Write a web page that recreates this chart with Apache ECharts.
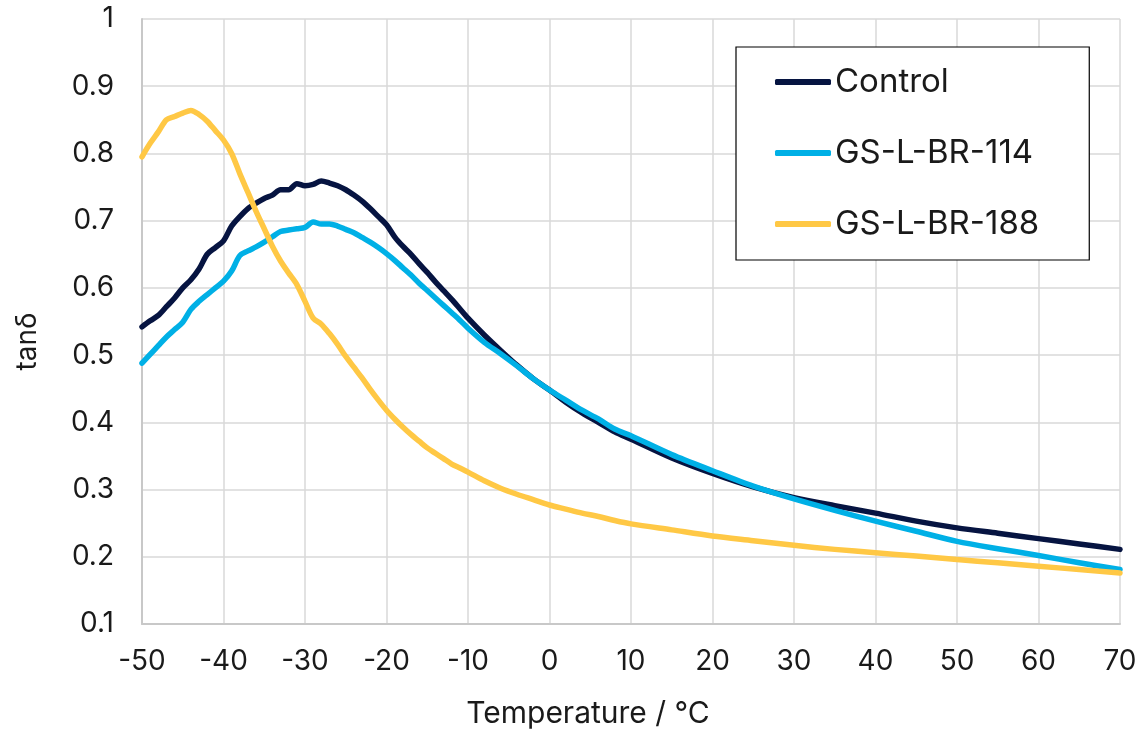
<!DOCTYPE html>
<html>
<head>
<meta charset="utf-8">
<script src="https://cdn.jsdelivr.net/npm/echarts@6/dist/echarts.min.js"></script>
<style>
  html, body { margin: 0; padding: 0; background: #ffffff; }
  #chart { width: 1143px; height: 739px; }
</style>
</head>
<body>
<div id="chart"></div>
<script>
// Temperature (°C)
const temperature = [-50,-49,-48,-47,-46,-45,-44,-43,-42,-41,-40,-39,-38,-37,-36,-35,-34,-33,-32,-31,-30,-29,-28,-27,-26,-25,-24,-23,-22,-21,-20,-19,-18,-17,-16,-15,-14,-13,-12,-11,-10,-8,-6,-4,-2,0,2,4,6,8,10,15,20,25,30,35,40,45,50,55,60,65,70];

const control = [0.542,0.551,0.559,0.572,0.585,0.600,0.612,0.628,0.650,0.660,0.670,0.692,0.706,0.718,0.726,0.733,0.738,0.746,0.746,0.755,0.752,0.754,0.759,0.756,0.752,0.746,0.738,0.729,0.718,0.706,0.694,0.676,0.662,0.650,0.636,0.623,0.609,0.596,0.583,0.569,0.555,0.530,0.507,0.485,0.465,0.448,0.430,0.414,0.400,0.386,0.375,0.347,0.324,0.304,0.288,0.276,0.265,0.253,0.243,0.235,0.227,0.219,0.211];

const gs114 = [0.488,0.501,0.514,0.527,0.538,0.549,0.568,0.580,0.590,0.600,0.610,0.625,0.648,0.655,0.661,0.668,0.676,0.684,0.686,0.688,0.690,0.698,0.695,0.695,0.692,0.687,0.682,0.675,0.668,0.660,0.651,0.641,0.630,0.619,0.607,0.596,0.585,0.574,0.563,0.552,0.540,0.519,0.502,0.484,0.465,0.448,0.433,0.418,0.405,0.390,0.380,0.352,0.328,0.305,0.286,0.269,0.253,0.238,0.223,0.212,0.202,0.191,0.181];

const gs188 = [0.795,0.815,0.832,0.850,0.855,0.860,0.864,0.858,0.848,0.834,0.820,0.800,0.770,0.742,0.714,0.688,0.662,0.640,0.622,0.605,0.580,0.555,0.546,0.532,0.516,0.498,0.482,0.466,0.449,0.433,0.418,0.405,0.393,0.382,0.372,0.362,0.354,0.346,0.338,0.332,0.326,0.313,0.302,0.293,0.285,0.277,0.271,0.265,0.260,0.254,0.249,0.240,0.231,0.224,0.217,0.211,0.206,0.201,0.196,0.191,0.186,0.181,0.176];

const seriesNames = ['Control', 'GS-L-BR-114', 'GS-L-BR-188'];
const seriesColors = ['#061441', '#00b0e6', '#ffc845'];
const seriesValues = [control, gs114, gs188];

const FONT = 'Inter, "DejaVu Sans", sans-serif';
const chart = echarts.init(document.getElementById('chart'), null, { renderer: 'canvas' });

const series = seriesNames.map((name, i) => ({
  name: name,
  type: 'line',
  data: temperature.map((t, k) => [t, seriesValues[i][k]]),
  showSymbol: false,
  symbol: 'none',
  smooth: 0.3,
  lineStyle: { color: seriesColors[i], width: 5.5, cap: 'round', join: 'round' },
  itemStyle: { color: seriesColors[i] },
  z: 3 + i
}));

chart.setOption({
  animation: false,
  backgroundColor: '#ffffff',
  grid: { left: 142, right: 23, top: 19, bottom: 115, containLabel: false },
  xAxis: {
    type: 'value',
    min: -50, max: 70, interval: 10,
    name: 'Temperature / °C',
    nameLocation: 'middle',
    nameGap: 75,
    nameTextStyle: { fontFamily: FONT, fontSize: 30, color: '#1a1a1a', padding: [0, 86, 0, 0] },
    axisLine: { show: true, onZero: false, lineStyle: { color: '#c8c8c8', width: 2 } },
    axisTick: { show: false },
    axisLabel: { fontFamily: FONT, fontSize: 28, color: '#1a1a1a', margin: 24 },
    splitLine: { show: true, lineStyle: { color: '#d9d9d9', width: 1.5 } }
  },
  yAxis: {
    type: 'value',
    min: 0.1, max: 1, interval: 0.1,
    name: 'tanδ',
    nameLocation: 'middle',
    nameRotate: 90,
    nameGap: 100,
    nameTextStyle: { fontFamily: FONT, fontSize: 28, color: '#1a1a1a', padding: [0, 40, 0, 0] },
    axisLine: { show: true, onZero: false, lineStyle: { color: '#c8c8c8', width: 2 } },
    axisTick: { show: false },
    axisLabel: {
      fontFamily: FONT, fontSize: 28, color: '#1a1a1a', margin: 28,
      formatter: v => String(+v.toFixed(1))
    },
    splitLine: { show: true, lineStyle: { color: '#d9d9d9', width: 1.5 } }
  },
  legend: {
    data: seriesNames,
    orient: 'vertical',
    left: 736, top: 47,
    padding: [15, 50, 16, 39],
    itemGap: 31,
    itemWidth: 56,
    itemHeight: 6,
    icon: 'roundRect',
    borderColor: '#000000',
    borderWidth: 1.2,
    backgroundColor: '#ffffff',
    textStyle: { fontFamily: FONT, fontSize: 33, color: '#1a1a1a', lineHeight: 40, padding: [0, 0, 0, -1] }
  },
  series: series
});
</script>
</body>
</html>
